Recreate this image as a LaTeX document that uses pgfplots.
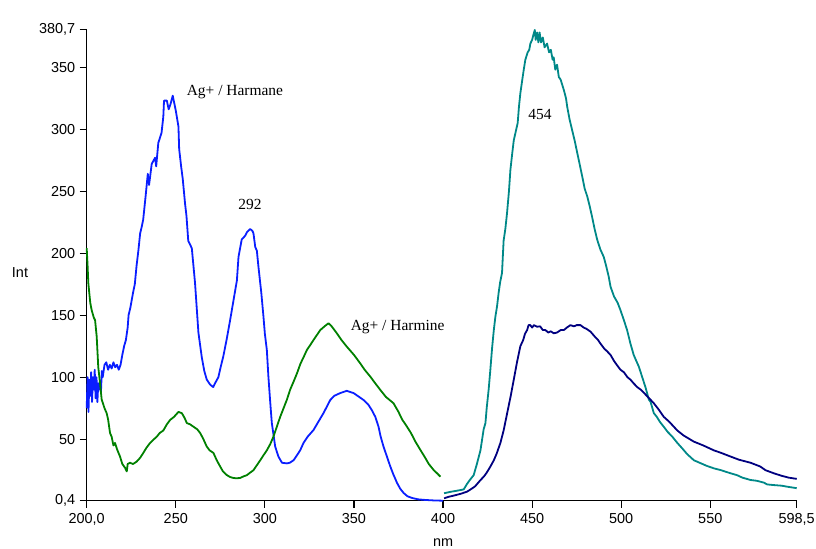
\documentclass[border=0pt]{standalone}
\usepackage{fontspec}
\setmainfont{Liberation Sans}
\newfontfamily\seriffont{Liberation Serif}
\usepackage{pgfplots}
\pgfplotsset{compat=1.18}
\definecolor{cblue}{RGB}{10,30,255}
\definecolor{cgreen}{RGB}{0,128,0}
\definecolor{cteal}{RGB}{0,136,136}
\definecolor{cnavy}{RGB}{0,0,128}
\begin{document}
\begin{tikzpicture}
\useasboundingbox (-86.7bp,-48.3bp) rectangle (729.3bp,500.7bp);
\begin{axis}[
  scale only axis,
  width=710bp, height=471.6bp,
  xmin=200, xmax=598.5, ymin=0.4, ymax=380.7,
  axis lines*=left,
  axis line style={line width=1.2bp},
  tick align=outside,
  major tick length=7bp,
  tick style={line width=1.1bp, black},
  xtick={200,250,300,350,400,450,500,550,598.5},
  xticklabels={{200,0},250,300,350,400,450,500,550,{598,5}},
  ytick={0.4,50,100,150,200,250,300,350,380.7},
  yticklabels={{0,4},50,100,150,200,250,300,350,{380,7}},
  /pgf/number format/assume math mode=true,
  ticklabel style={font=\fontsize{14.5}{17}\selectfont},
  xticklabel style={yshift=-2bp},
  yticklabel style={xshift=-1bp},
  every axis plot/.append style={line width=1.8bp, line join=round},
  clip=false,
]
% Ag+ / Harmane (blue)
\addplot[cblue] coordinates {
(200,75)(200.5,100)(201,72)(201.5,98)(202,85)(202.5,104)(203,80)(203.5,100)(204,90)(204.5,106)
(205,83)(205.5,100)(206,80)(206.5,95)(207,90)(207.5,97)(208,88)(208.5,105)(209,100)(210,110)
(211,112)(212,106)(213,110)(214,107)(215,112)(216,108)(217,110)(218,106)(219,110)(220,118)
(221,125)(222,130)(223,140)(223.5,150)(224.5,156)(226,168)(227,175)(228,190)(229,202)(230,216)
(231,222)(231.7,227)(233,245)(234.3,264)(235,255)(236.5,272)(238.4,277)(239,270)(240.2,289)(242,297)
(243,310)(243.4,323)(245,323)(246,316)(247,320)(248.3,327)(249,322)(250,315)(251.5,302)(251.9,284)
(253,270)(253.9,260)(255.2,240)(256,230)(257,210)(259,204)(260.8,176)(262.7,136)(264.6,116)(266,105)
(267.4,98)(269.3,94)(271,92)(272,95)(273.9,100)(275,107)(276.7,117)(278.5,130)(280.5,146)(282.4,162)
(284.3,178)(285.2,197)(287,211)(288.9,214)(290,217)(291.7,219.5)(293,218)(293.6,216)(294.6,205)(295.5,202)
(296.4,189)(298,168)(299.2,149)(300,135)(301.1,122)(302,100)(303,80)(303.9,63)(305,52)(305.8,44)
(307.6,36)(309.6,31)(312.4,30.5)(314,31)(316.1,33)(318,37)(319.8,41)(321.7,47)(324,52)(327.3,57.4)
(330,64)(332.9,71)(336.7,81.6)(339,85)(342.3,87.2)(346,89)(348,88)(349.8,87.2)(352,85)(355.4,81.6)
(358,78)(360,73.5)(362,68)(363.8,60)(365,52)(366.6,44)(368.5,36)(370.4,28)(372,22)(374.2,14.7)
(376,10)(377.9,6.6)(380,4)(382.6,2.6)(386,1.5)(390,1)(395,0.6)(400,0.4)
};
% Ag+ / Harmine (green)
\addplot[cgreen] coordinates {
(200,204)(200.5,190)(200.9,176)(202,160)(202.8,154)(204,148)(204.7,146)(205.6,133)(206.5,108)(207.5,95)
(208.4,82)(210,75)(211.2,71)(212,66)(213.1,55)(214,52)(215,45)(215.9,47)(217,42)(218.7,36)
(220,30)(221.5,27)(222.5,24)(223,30)(224.3,31)(226,30)(228.1,32)(230,35)(231.8,39)(233.5,43)
(235.6,47)(237,49)(239.3,52)(241,55)(243,57)(245,62)(246.8,65.5)(249,68)(251.5,72)(253.4,71)
(255,67)(256.2,63)(258,62)(260,60)(262,58)(263.7,55)(265.5,50)(267.4,44)(269,41)(271.1,39)
(273,33)(274.9,28)(276.5,24)(278.7,21)(280.5,19.5)(282.4,18.7)(284,18.5)(286.1,18.7)(288,20)(289.9,21)
(291.7,23)(293.6,25)(295.5,29)(297.4,33)(299.2,37)(301.1,41)(303,46)(304.8,52)(306.7,60)(308.6,68)
(310.5,75)(312.4,82)(314.2,90)(316,96)(318,103)(320,111)(321.7,116)(323.6,122)(325.5,126)(327.3,130)
(329.2,134)(331.1,138)(333.5,141)(335.7,143.5)(337.5,141)(340.4,135.4)(343,130)(346,124.6)(350,118)(353.5,111.2)
(356,106)(359.2,100.4)(362,95)(364.8,89.7)(368,84)(372.2,79)(375,72)(377,66)(379.8,60)(382,55)
(384.5,48)(387.3,41.3)(390,35)(392,30)(394.7,25.2)(397,22)(398.5,19.8)
};
% teal (454)
\addplot[cteal] coordinates {
(400.6,6.4)(404,7.5)(408,8.5)(411.6,9.5)(413.5,14)(415,17)(417.2,21)(419,30)(421,41)(422.8,58)
(423.8,63)(424.5,75)(425.6,90)(426.5,105)(427.5,123)(428.5,138)(429.4,149)(430.3,157)(431.2,168)(432.1,177)
(433.1,184)(434,210)(435,220)(435.9,232)(437,250)(437.8,267)(438.8,280)(439.7,291)(440.8,298)(441.9,305)
(442.6,318)(443.4,329)(444.5,340)(445.3,348)(446.2,356)(447.5,362)(448.4,364)(449,369)(450,372)(450.7,376)
(451.5,380)(452,372)(452.8,378)(453.5,370)(454.2,378)(455,370)(456,374)(457,366)(458.4,369)(459.5,362)
(460.5,364)(461.5,356)(462.1,358)(463,348)(464,352)(465,342)(466,340)(467.8,331.6)(469,325)(469.7,318)
(471,308)(472.5,299)(474,290)(475.3,281)(476.5,273)(478.1,262)(479.5,252)(480.9,246)(482.3,238)(483.7,229)
(485,220)(486.5,211)(488.3,203)(490.2,197)(491.5,190)(493,181)(494,173)(496,165)(498,160)(499.6,154)
(501.5,146)(503.3,138)(505.2,127)(507,118)(508.5,113)(509.9,108.5)(511.8,100)(513.6,92)(515.5,82)(516.5,80)
(518.3,71)(520,68)(521.7,64)(523.9,60)(526,56)(528.7,52)(531.5,47)(534,43)(537,38)(540.8,33)
(544,31)(548,28.5)(552,26.5)(556,25)(561.4,22.5)(565,21)(568,19)(572.6,17.1)(576,16.5)(580,15)
(582,13.5)(585.7,13)(590,12.5)(594,11.5)(598.5,10.5)
};
% navy
\addplot[cnavy] coordinates {
(400.6,2.3)(403,3.5)(406,4.5)(410,6)(413.5,7.7)(416,10)(418,12)(421,17)(423,20)(424.5,23)
(426.6,28)(428.5,33)(430,38)(432.2,47)(434,57)(436,71)(438,85)(439.7,98)(441.5,112)(443.4,125)
(445,130)(446,135)(447.2,138)(448,142)(449,142)(450,140)(451,142)(452.8,140.7)(454.5,141)(456,138)
(457.5,138)(459,136)(460.5,137)(462.1,135.4)(464,136)(466,138)(467.8,138)(469.5,140)(471.5,142)(473.5,141)
(475,142)(477.1,142)(479,140)(480.5,139)(482.8,136.7)(485,133)(487,130)(488.4,127)(490.5,123)(492,121)
(494,118)(496,113)(497.5,110)(499.6,106)(501.5,104)(503.5,100)(505.2,98)(507,95)(509,92)(510.9,90)
(513,87)(515,84)(518.3,79)(521,74)(523.9,68)(527,64)(531.5,57)(535,53)(540.8,48)(546,45)
(552,41)(556,39)(561.4,36)(566,33.5)(572.6,31)(578,28)(581,25)(585.7,22.5)(590,20.5)(594,19)
(598.5,18)
};
\node[font=\seriffont\fontsize{15.5}{18}\selectfont] at (axis cs:283.2,330) {Ag+ / Harmane};
\node[font=\seriffont\fontsize{15.5}{18}\selectfont] at (axis cs:291.7,239.6) {292};
\node[font=\seriffont\fontsize{15.5}{18}\selectfont] at (axis cs:374.5,140.7) {Ag+ / Harmine};
\node[font=\seriffont\fontsize{15.5}{18}\selectfont] at (axis cs:454.4,312) {454};
\node[font=\fontsize{14.5}{17}\selectfont] at (axis cs:200,184) [xshift=-66.7bp] {Int};
\node[font=\fontsize{14.5}{17}\selectfont] at (axis cs:400,0.4) [yshift=-42.3bp] {nm};
\end{axis}
\end{tikzpicture}
\end{document}
